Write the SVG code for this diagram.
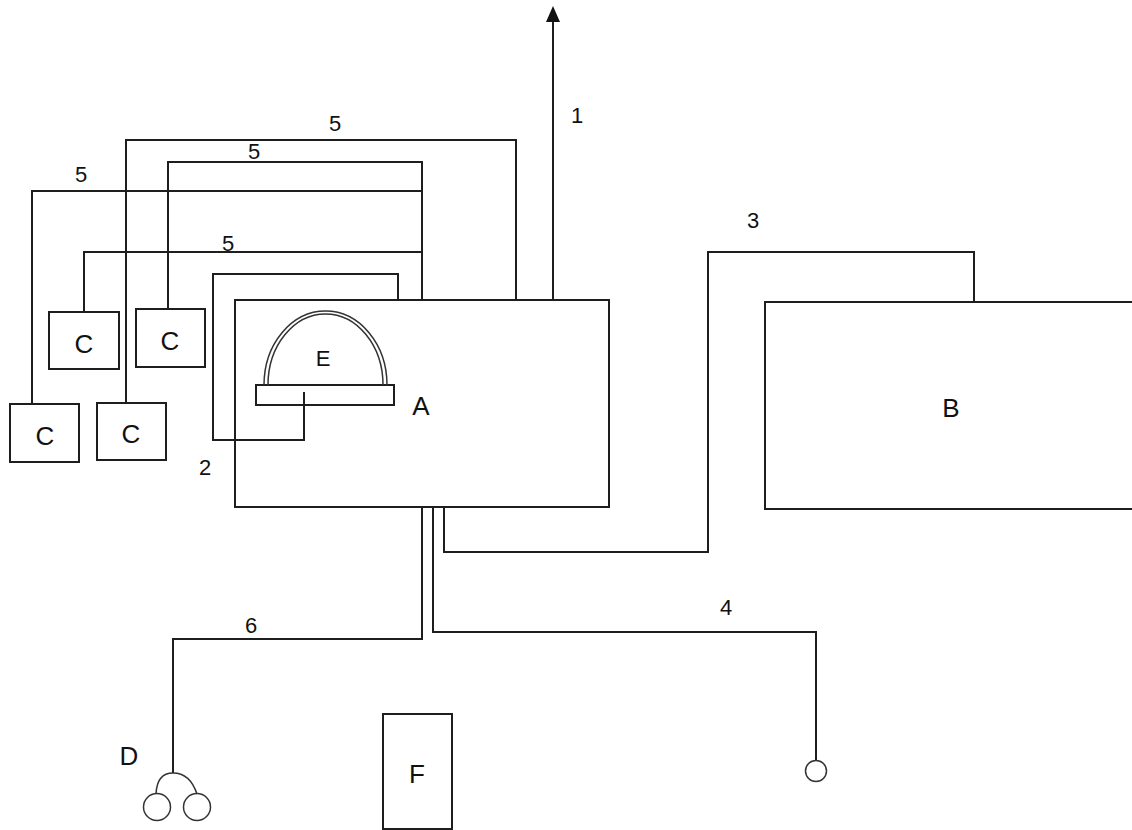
<svg xmlns="http://www.w3.org/2000/svg" width="1132" height="830" viewBox="0 0 1132 830">
<style>
.box{fill:none;stroke:#1e1e1e;stroke-width:2}
.ln{fill:none;stroke:#1e1e1e;stroke-width:2}
.thin{fill:none;stroke:#333;stroke-width:1.5}
.lt{font-family:"Liberation Sans",Arial,sans-serif;font-size:26px;fill:#111;text-anchor:middle}
.num{font-family:"Liberation Sans",Arial,sans-serif;font-size:22px;fill:#111;text-anchor:middle}
</style>
<defs>
<marker id="arr" viewBox="0 0 10 10" refX="9" refY="5" markerWidth="8" markerHeight="8" markerUnits="userSpaceOnUse" orient="auto">
<path d="M0,0 L10,5 L0,10 Z" fill="#111"/>
</marker>
</defs>
<rect width="1132" height="830" fill="#fff"/>

<g id="connectors">
<!-- 1 -->
<path class="ln" d="M553,299 V22"/>
<path d="M553,6 L546,22 L560,22 Z" fill="#111"/>
<!-- 5 lines -->
<path class="ln" d="M516,300 V140 H126 V403"/>
<path class="ln" d="M422,300 V162 H168 V309"/>
<path class="ln" d="M422,191 H32 V404"/>
<path class="ln" d="M422,252 H84 V312"/>
<!-- 2 -->
<path class="ln" d="M398,300 V274 H213 V440 H304 V392"/>
<!-- 3 -->
<path class="ln" d="M444,507 V552 H708 V252 H974 V302"/>
<!-- 4 -->
<path class="ln" d="M433,507 V632 H816 V760"/>
<!-- 6 -->
<path class="ln" d="M422,507 V639 H173 V773"/>
<text class="num" x="577" y="123">1</text>
<text class="num" x="335" y="131">5</text>
<text class="num" x="254" y="159">5</text>
<text class="num" x="81" y="182">5</text>
<text class="num" x="228" y="251">5</text>
<text class="num" x="205" y="475">2</text>
<text class="num" x="753" y="228">3</text>
<text class="num" x="726" y="615">4</text>
<text class="num" x="251" y="633">6</text>
</g>

<g id="node-A">
<rect class="box" x="235" y="300" width="374" height="207"/>
<text class="lt" x="421" y="415">A</text>
</g>

<g id="node-E">
<rect class="box" x="256" y="385" width="138" height="20"/>
<path class="thin" d="M264,385 A61.5,74 0 0 1 387,385"/>
<path class="thin" d="M268,385 A57.5,71 0 0 1 383,385"/>
<text class="lt" x="323" y="366" style="font-size:22px">E</text>
</g>

<g id="node-B">
<rect class="box" x="765" y="302" width="380" height="207"/>
<text class="lt" x="951" y="417">B</text>
</g>

<g id="node-C1">
<rect class="box" x="49" y="312" width="70" height="57"/>
<text class="lt" x="84" y="353">C</text>
</g>
<g id="node-C2">
<rect class="box" x="136" y="309" width="69" height="58"/>
<text class="lt" x="170" y="350">C</text>
</g>
<g id="node-C3">
<rect class="box" x="10" y="404" width="69" height="58"/>
<text class="lt" x="45" y="445">C</text>
</g>
<g id="node-C4">
<rect class="box" x="97" y="403" width="69" height="57"/>
<text class="lt" x="131" y="443">C</text>
</g>

<g id="node-D">
<path class="thin" d="M156,794 Q157,773 173,773 Q190,773 197,794"/>
<circle class="thin" cx="157" cy="807" r="13.5"/>
<circle class="thin" cx="197" cy="807" r="13.5"/>
<text class="lt" x="129" y="765">D</text>
</g>

<g id="node-F">
<rect class="box" x="383" y="714" width="69" height="115"/>
<text class="lt" x="417" y="783">F</text>
</g>

<g id="node-terminal">
<circle class="thin" cx="816" cy="771" r="10.5"/>
</g>
</svg>
